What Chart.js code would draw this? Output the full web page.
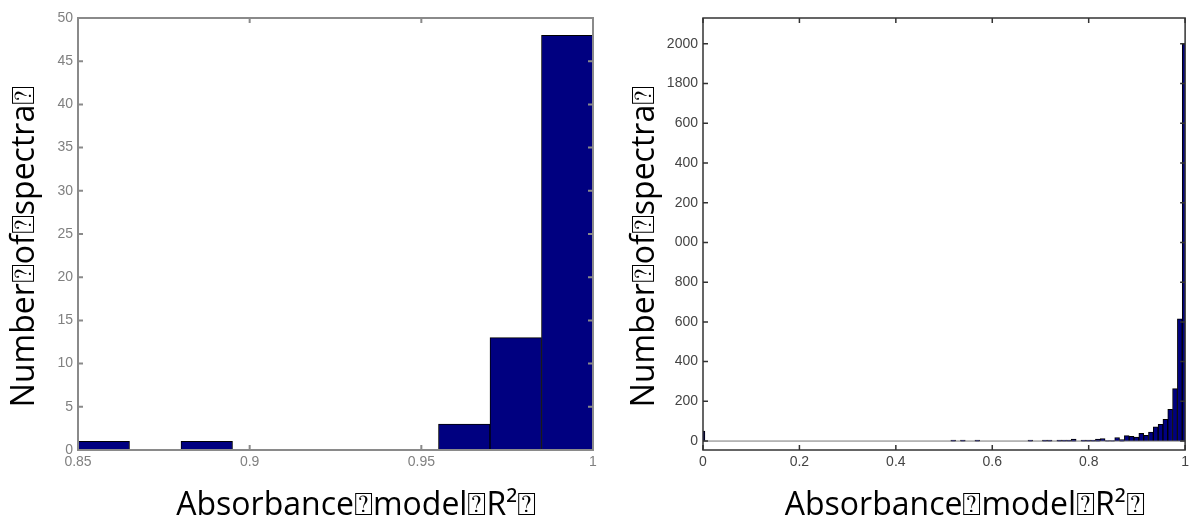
<!DOCTYPE html>
<html>
<head>
<meta charset="utf-8">
<script src="https://cdn.jsdelivr.net/npm/chart.js@4.4.0/dist/chart.umd.min.js"></script>
<style>
  html, body { margin: 0; padding: 0; background: #fff; }
  #wrap { position: relative; width: 1193px; height: 526px; overflow: hidden; }
  canvas { position: absolute; top: 0; }
  #left { left: 0; }
  #right { left: 610px; }
</style>
</head>
<body>
<div id="wrap">
  <canvas id="left" width="610" height="526"></canvas>
  <canvas id="right" width="583" height="526"></canvas>
</div>
<script>
// left panel: 10 bins of width 0.015 between 0.85 and 1
const leftBinCenters = [0.8575, 0.8725, 0.8875, 0.9025, 0.9175, 0.9325, 0.9475, 0.9625, 0.9775, 0.9925];
const leftCounts = [1, 0, 1, 0, 0, 0, 0, 3, 13, 48];
const leftXTicks = [0.85, 0.9, 0.95, 1];
const leftXTickText = ['0.85', '0.9', '0.95', '1'];
const leftYTicks = [0, 5, 10, 15, 20, 25, 30, 35, 40, 45, 50];
const leftYTickText = ['0', '5', '10', '15', '20', '25', '30', '35', '40', '45', '50'];

// right panel: bins of width 0.01, only the non-empty ones
const rightBinCenters = [-0.001, 0.519, 0.539, 0.569, 0.679, 0.709, 0.719, 0.739, 0.749, 0.759,
  0.769, 0.789, 0.799, 0.809, 0.819, 0.829, 0.839, 0.849, 0.859, 0.869,
  0.879, 0.889, 0.899, 0.909, 0.919, 0.929, 0.939, 0.949, 0.959, 0.969,
  0.979, 0.989, 0.999];
const rightCounts = [50, 5, 5, 5, 5, 5, 5, 5, 5, 5,
  10, 5, 5, 5, 10, 13, 3, 3, 18, 8,
  27, 24, 20, 39, 29, 45, 72, 84, 109, 160,
  264, 615, 2000];
const rightXTicks = [0, 0.2, 0.4, 0.6, 0.8, 1];
const rightXTickText = ['0', '0.2', '0.4', '0.6', '0.8', '1'];
const rightYTicks = [0, 200, 400, 600, 800, 1000, 1200, 1400, 1600, 1800, 2000];
// leading digits are cut off in the source figure
const rightYTickText = ['0', '200', '400', '600', '800', '000', '200', '400', '600', '1800', '2000'];

// the nbsp padding nudges the titles off-centre the way the figure has them
const yTitle = 'Number\u2370of\u2370spectra\u2370\u00A0\u00A0\u00A0';
const xTitle = '\u00A0\u00A0\u00A0\u00A0\u00A0Absorbance\u2370model\u2370R\u00B2\u2370';

// box around the axes with inward tick marks, like MATLAB
const matlabBox = {
  id: 'matlabBox',
  afterDatasetsDraw(chart, args, opts) {
    const {ctx, chartArea: a, scales: {x, y}} = chart;
    const len = 5;
    ctx.save();
    if (opts.baseline) {
      const y0 = y.getPixelForValue(0);
      ctx.strokeStyle = opts.baseline;
      ctx.lineWidth = 1;
      ctx.beginPath();
      ctx.moveTo(a.left, y0);
      ctx.lineTo(a.right, y0);
      ctx.stroke();
    }
    ctx.strokeStyle = opts.color;
    ctx.lineWidth = opts.width;
    ctx.strokeRect(a.left, a.top, a.right - a.left, a.bottom - a.top);
    ctx.beginPath();
    x.ticks.forEach(t => {
      const px = x.getPixelForValue(t.value);
      ctx.moveTo(px, a.bottom); ctx.lineTo(px, a.bottom - len);
      ctx.moveTo(px, a.top); ctx.lineTo(px, a.top + len);
    });
    y.ticks.forEach(t => {
      const py = y.getPixelForValue(t.value);
      ctx.moveTo(a.left, py); ctx.lineTo(a.left + len, py);
      ctx.moveTo(a.right, py); ctx.lineTo(a.right - len, py);
    });
    ctx.stroke();
    ctx.restore();
  }
};

function makeChart(id, cfg) {
  const ctx = document.getElementById(id).getContext('2d');
  return new Chart(ctx, {
    type: 'bar',
    data: {
      datasets: [{
        data: cfg.centers.map((c, i) => ({x: c, y: cfg.counts[i]})),
        backgroundColor: '#000080',
        borderColor: '#000000',
        borderWidth: 1,
        borderSkipped: 'bottom',
        barPercentage: 1,
        categoryPercentage: 1
      }]
    },
    options: {
      responsive: false,
      animation: false,
      events: [],
      layout: {padding: {top: 18, right: cfg.padRight, bottom: 0, left: 0}},
      plugins: {
        legend: {display: false},
        tooltip: {enabled: false},
        matlabBox: {color: cfg.boxColor, width: cfg.boxWidth, baseline: cfg.baseline}
      },
      scales: {
        x: {
          type: 'linear',
          offset: false,
          bounds: 'data',
          min: cfg.xMin,
          max: cfg.xMax,
          grid: {display: false, drawTicks: false},
          border: {display: false},
          afterBuildTicks: s => { s.ticks = cfg.xTicks.map(v => ({value: v})); },
          afterFit: s => { s.height = 76; },
          ticks: {
            autoSkip: false,
            maxRotation: 0,
            padding: 4,
            color: cfg.tickColor,
            font: {family: 'Liberation Sans', size: 14},
            callback: (v, i) => cfg.xTickText[i]
          },
          title: {
            display: true,
            text: xTitle,
            color: '#000',
            padding: {top: 0, bottom: 1},
            font: {family: 'Open Sans', size: 32}
          }
        },
        y: {
          type: 'linear',
          bounds: 'data',
          min: cfg.yMin,
          max: cfg.yMax,
          grid: {display: false, drawTicks: false},
          border: {display: false},
          afterBuildTicks: s => { s.ticks = cfg.yTicks.map(v => ({value: v})); },
          afterFit: s => { s.width = cfg.yWidth; },
          ticks: {
            autoSkip: false,
            padding: 5,
            color: cfg.tickColor,
            font: {family: 'Liberation Sans', size: 14},
            callback: (v, i) => cfg.yTickText[i]
          },
          title: {
            display: true,
            text: yTitle,
            color: '#000',
            padding: {top: cfg.yTitlePad, bottom: 0},
            font: {family: 'Open Sans', size: 32}
          }
        }
      }
    },
    plugins: [matlabBox]
  });
}

makeChart('left', {
  centers: leftBinCenters, counts: leftCounts,
  xMin: 0.85, xMax: 1, yMin: 0, yMax: 50,
  xTicks: leftXTicks, xTickText: leftXTickText,
  yTicks: leftYTicks, yTickText: leftYTickText,
  yWidth: 78, padRight: 17, yTitlePad: 6,
  tickColor: '#808080', boxColor: '#8a8a8a', boxWidth: 2, baseline: null
});

makeChart('right', {
  centers: rightBinCenters, counts: rightCounts,
  xMin: 0, xMax: 1, yMin: -45, yMax: 2130,
  xTicks: rightXTicks, xTickText: rightXTickText,
  yTicks: rightYTicks, yTickText: rightYTickText,
  yWidth: 93, padRight: 6, yTitlePad: 16,
  tickColor: '#444444', boxColor: '#333333', boxWidth: 1.5, baseline: '#777777'
});
</script>
</body>
</html>
